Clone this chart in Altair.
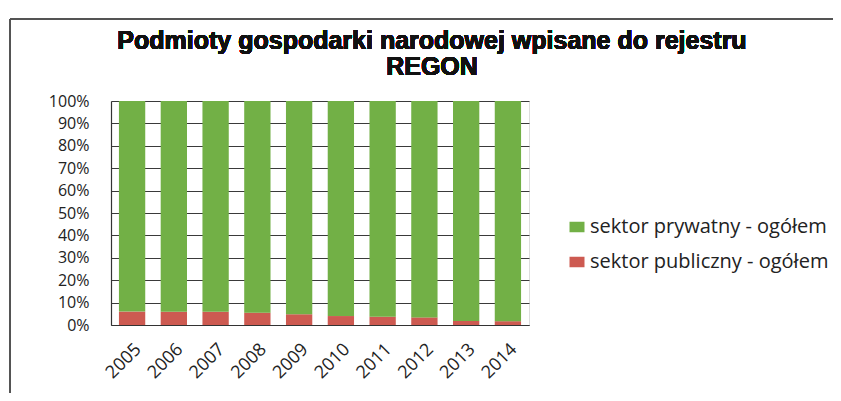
import altair as alt
import pandas as pd

years = ["2005", "2006", "2007", "2008", "2009", "2010", "2011", "2012", "2013", "2014"]
public_pct = [6.0, 5.9, 5.9, 5.5, 4.8, 4.0, 3.7, 3.4, 1.8, 1.7]
private_pct = [round(100 - v, 1) for v in public_pct]
series = ["sektor prywatny - ogółem", "sektor publiczny - ogółem"]
colors = ["#72b046", "#cd5a51"]
y_ticks = [0, 10, 20, 30, 40, 50, 60, 70, 80, 90, 100]
title_lines = ["Podmioty gospodarki narodowej wpisane do rejestru", "REGON"]

rows = []
for i, y in enumerate(years):
    rows.append({"rok": y, "seria": series[1], "wartosc": public_pct[i], "kolejnosc": 0})
    rows.append({"rok": y, "seria": series[0], "wartosc": private_pct[i], "kolejnosc": 1})
df = pd.DataFrame(rows)

label_font = "Open Sans"

bars = alt.Chart(df).mark_bar().encode(
    x=alt.X("rok:N", sort=years, title=None,
            scale=alt.Scale(paddingInner=0.37, paddingOuter=0.19),
            axis=alt.Axis(labelAngle=-45, labelFontSize=18, labelFont=label_font,
                          labelColor="#222", ticks=False, labelPadding=15,
                          domainColor="#333", domainWidth=1.2, grid=False)),
    y=alt.Y("wartosc:Q", stack="zero", title=None,
            scale=alt.Scale(domain=[0, 100], nice=False),
            axis=alt.Axis(values=y_ticks, labelExpr="datum.value + '%'",
                          labelFontSize=16, labelFont=label_font, labelColor="#222",
                          ticks=False, labelPadding=22, domainColor="#333",
                          domainWidth=1.2, grid=True, gridColor="#3a3a3a",
                          gridWidth=1)),
    color=alt.Color("seria:N",
                    scale=alt.Scale(domain=series, range=colors),
                    legend=alt.Legend(title=None, orient="none", legendX=456, legendY=116,
                                      symbolType="M-1,-0.7L1,-0.7L1,0.7L-1,0.7Z",
                                      symbolSize=225, symbolStrokeWidth=0,
                                      labelFontSize=20, labelFont=label_font,
                                      labelColor="#222", labelOffset=3,
                                      labelLimit=400, rowPadding=15)),
    order=alt.Order("kolejnosc:Q", sort="ascending"),
)

title1 = alt.Chart(df).mark_text(
    text=title_lines[0], font="Liberation Sans", fontSize=25, fontWeight="bold",
    color="#111", align="center", baseline="alphabetic").encode(
    x=alt.value(321), y=alt.value(-52))
title2 = alt.Chart(df).mark_text(
    text=title_lines[1], font="Liberation Sans", fontSize=25, fontWeight="bold",
    color="#111", align="center", baseline="alphabetic").encode(
    x=alt.value(321), y=alt.value(-26))

frame_top = alt.Chart(df).mark_rule(color="#555", strokeWidth=1.2).encode(
    x=alt.value(-101), x2=alt.value(722), y=alt.value(-82))
frame_left = alt.Chart(df).mark_rule(color="#555", strokeWidth=1.2).encode(
    x=alt.value(-101), y=alt.value(-82), y2=alt.value(292))

chart = alt.layer(frame_top, frame_left, title1, title2, bars).properties(
    width=418, height=224,
    padding={"left": 103, "top": 93, "right": 304, "bottom": 68},
    autosize=alt.AutoSizeParams(type="none"),
).configure_view(stroke=None).configure(background="white")

chart.save("out.html", embed_options={"renderer": "svg", "actions": False})
